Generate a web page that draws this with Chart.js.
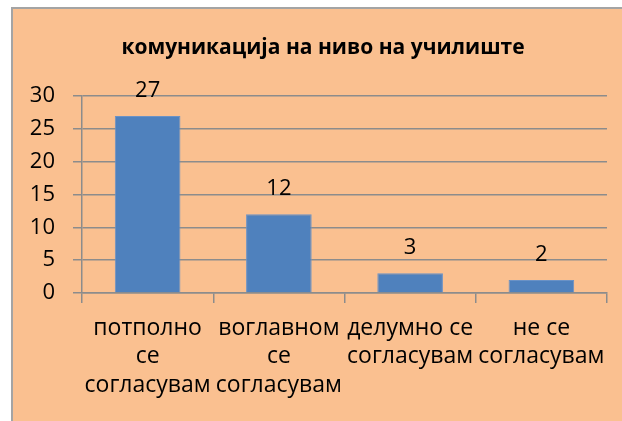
<!DOCTYPE html>
<html>
<head>
<meta charset="utf-8">
<script src="https://cdn.jsdelivr.net/npm/chart.js@4"></script>
<style>
  html, body { margin: 0; padding: 0; background: #fff; overflow: hidden; width: 622px; height: 421px; }
  #frame {
    position: absolute; left: 11px; top: 7px; width: 700px; height: 500px;
    background: #FAC090;
    border-left: 2px solid #A4A4A4; border-top: 2px solid #A4A4A4;
  }
  #chart { position: absolute; left: 0; top: 0; }
</style>
</head>
<body>
<div id="frame"></div>
<canvas id="chart" width="646" height="421"></canvas>
<script>
// survey answers: school-level communication
const titleText = "комуникација на ниво на училиште";
const categories = [
  ["потполно", "се", "согласувам"],
  ["воглавном", "се", "согласувам"],
  ["делумно се", "согласувам"],
  ["не се", "согласувам"]
];
const counts = [27, 12, 3, 2];
const yTicks = { min: 0, max: 30, step: 5 };

const FONT = "'Open Sans', 'Liberation Sans', sans-serif";
const gridColor = "#8C8C8C";

// value labels above each bar
const barValues = {
  id: "barValues",
  afterDatasetsDraw(chart) {
    const ctx = chart.ctx;
    const meta = chart.getDatasetMeta(0);
    ctx.save();
    ctx.font = "22px " + FONT;
    ctx.fillStyle = "#000";
    ctx.textAlign = "center";
    ctx.textBaseline = "alphabetic";
    meta.data.forEach((bar, i) => {
      ctx.fillText(String(counts[i]), bar.x, bar.y - 19);
    });
    ctx.restore();
  }
};

// centre the title on the whole frame, not just the padded area
const titleSpan = {
  id: "titleSpan",
  afterLayout(chart) {
    if (chart.titleBlock) {
      chart.titleBlock.left = 12;
      chart.titleBlock.right = chart.width - 12;
    }
  }
};

window.addEventListener("load", function () {
  const ctx = document.getElementById("chart").getContext("2d");
  new Chart(ctx, {
    type: "bar",
    data: {
      labels: categories,
      datasets: [{
        data: counts,
        backgroundColor: "#4F81BD",
        borderColor: "#6A92C6",
        borderWidth: 1,
        categoryPercentage: 1,
        barPercentage: 0.5
      }]
    },
    options: {
      responsive: false,
      animation: false,
      layout: { padding: { left: 12, right: 39, top: 8, bottom: 0 } },
      plugins: {
        legend: { display: false },
        tooltip: { enabled: false },
        title: {
          display: true,
          text: titleText,
          color: "#000",
          font: { family: FONT, size: 21, weight: "bold", lineHeight: 1.2 },
          padding: { top: 27, bottom: 36 }
        }
      },
      scales: {
        x: {
          offset: true,
          grid: { offset: true, drawOnChartArea: false, tickLength: 10, color: gridColor, lineWidth: 1.5 },
          border: { display: true, color: gridColor, width: 1.5 },
          ticks: { color: "#000", font: { family: FONT, size: 23, lineHeight: 1.24 }, padding: 11, maxRotation: 0, autoSkip: false },
          afterFit(scale) { scale.height = 128; }
        },
        y: {
          min: yTicks.min,
          max: yTicks.max,
          grid: { tickLength: 9, color: gridColor, lineWidth: 1.5 },
          border: { display: true, color: gridColor, width: 1.5 },
          ticks: { stepSize: yTicks.step, color: "#000", font: { family: FONT, size: 22 }, padding: 18 },
          afterFit(scale) { scale.width = 70; }
        }
      }
    },
    plugins: [barValues, titleSpan]
  });
});
</script>
</body>
</html>
